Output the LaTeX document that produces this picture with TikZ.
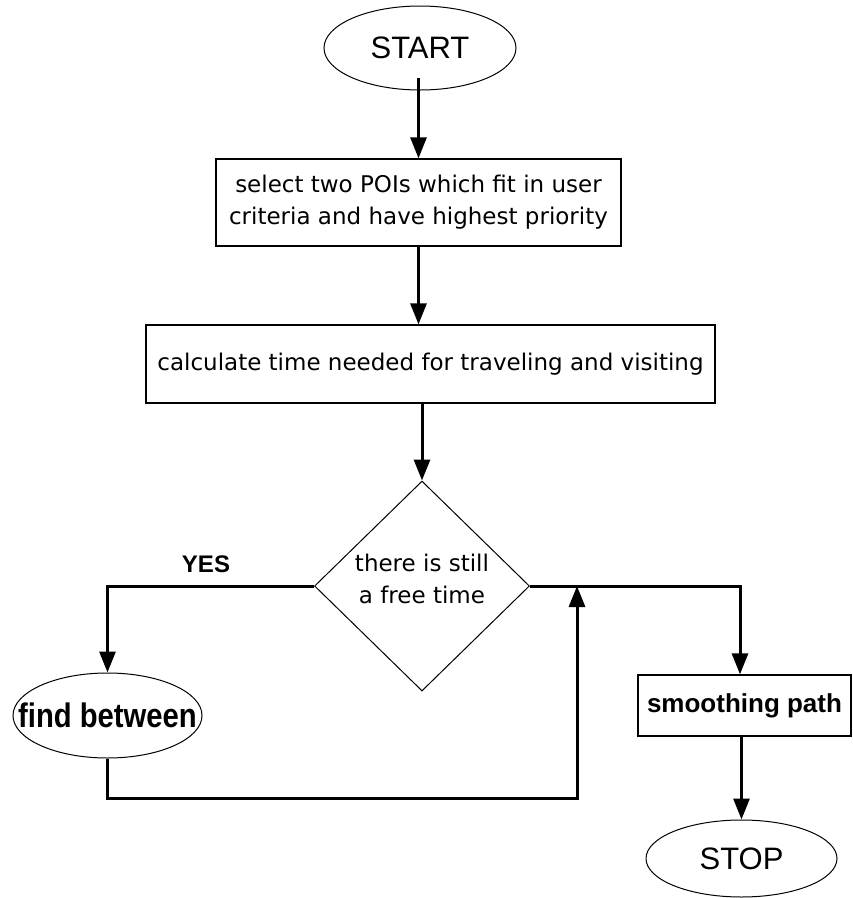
\documentclass[tikz,border=0pt]{standalone}
\usepackage{graphicx}
\usepackage{fontspec}
\setmainfont{DejaVu Sans}
\newfontfamily\arialf{Liberation Sans}
\usetikzlibrary{shapes.geometric,arrows.meta}
\begin{document}
\begin{tikzpicture}[x=1pt,y=-1pt,
  conn/.style={line width=3pt},
  arr/.style={conn,-{Triangle[width=16pt,length=21pt]}},
  terminal/.style={ellipse,draw,line width=1pt,inner sep=0pt},
  procbox/.style={rectangle,draw,line width=1.3pt,inner sep=0pt,align=center},
  decision/.style={diamond,draw,line width=1pt,inner sep=0pt},
  bodytext/.style={font=\fontsize{23}{32}\selectfont,align=center},
  termtext/.style={font=\arialf\fontsize{31}{36}\selectfont},
]
\useasboundingbox (0,0) rectangle (853,898);
\node[terminal,termtext,minimum width=192pt,minimum height=84pt] (start) at (420,48) {START};
\node[procbox,bodytext,minimum width=405pt,minimum height=87pt] (box1) at (418.5,202.5) {select two POIs which fit in user\\criteria and have highest priority};
\node[procbox,bodytext,minimum width=569pt,minimum height=78pt] (box2) at (430.5,364) {calculate time needed for traveling and visiting};
\node[decision,minimum width=215pt,minimum height=210pt] (dec) at (422,586) {};
\node[bodytext] (dectext) at (422,579) {there is still\\a free time};
\node[terminal,minimum width=189pt,minimum height=85pt,font=\arialf\bfseries\fontsize{34}{40}\selectfont] (find) at (107.5,715.5) {\makebox[0pt]{\scalebox{0.86}[1]{find between}}};
\node[procbox,minimum width=213pt,minimum height=61pt,font=\arialf\bfseries\fontsize{26}{30}\selectfont] (smooth) at (744.5,705.5) {smoothing path};
\node[terminal,termtext,minimum width=191pt,minimum height=77pt] (stop) at (741.5,858.5) {STOP};
\node[font=\arialf\bfseries\fontsize{24}{28}\selectfont] (yes) at (206,564) {YES};
\coordinate (merge) at (577,586);
\coordinate (s1) at ([yshift=13pt]start.south);
\coordinate (smin) at ([xshift=-4.5pt]smooth.north);

\draw[arr] (s1 -| box1.north) -- (box1.north);
\draw[arr] (box1.south) -- (box1.south |- box2.north);
\draw[arr] (box2.south -| dec.north) -- (dec.north);
\draw[arr] (dec.west) -| (find.north);
\draw[arr] (find.south) -- ++(0,40) -| (merge);
\draw[arr] (dec.east) -| (smin);
\draw[arr] (smooth.south -| stop.north) -- (stop.north);
\end{tikzpicture}
\end{document}
